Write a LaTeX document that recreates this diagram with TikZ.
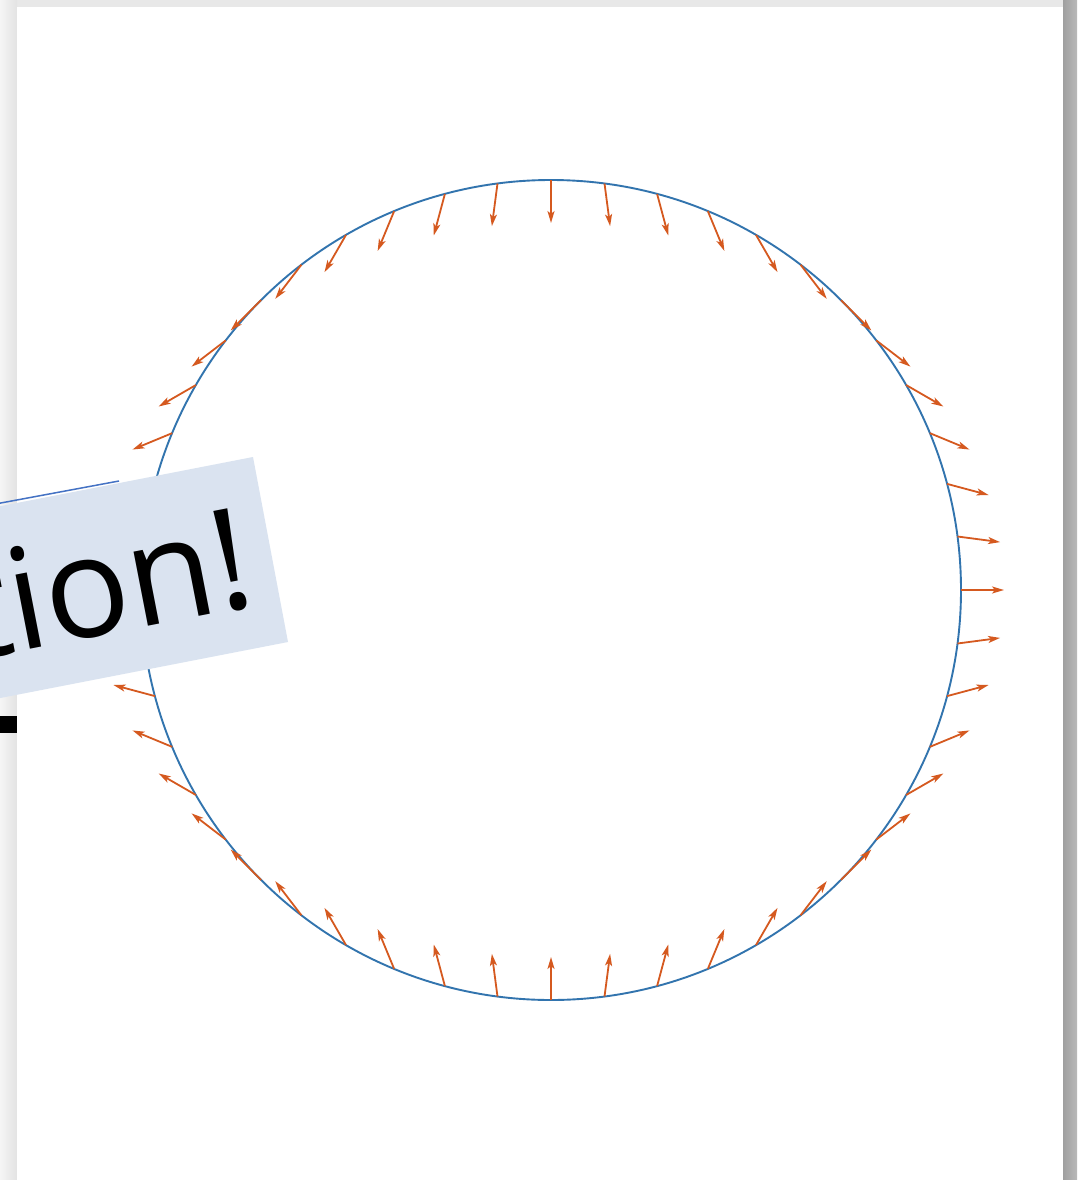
\documentclass[tikz,border=0pt]{standalone}
\usepackage{fontspec}
\setmainfont{Open Sans}
\usetikzlibrary{arrows.meta}
\definecolor{circblue}{HTML}{3274AE}
\definecolor{arrred}{HTML}{D5591F}
\definecolor{boxfill}{HTML}{DAE3F0}
\definecolor{edgeblue}{HTML}{4472C4}
\begin{document}
\begin{tikzpicture}[x=1pt,y=-1pt,
  vec/.style={draw=arrred, line width=1.8pt, -{Stealth[length=12pt,width=7pt,inset=3pt]}},
  ring/.style={draw=circblue, line width=1.9pt},
  labelbox/.style={fill=boxfill},
  labeltext/.style={font=\fontsize{141}{145}\selectfont, text=black, rotate=11, anchor=base east, inner sep=0pt}]
\useasboundingbox (0,0) rectangle (1077,1180);
\clip (0,0) rectangle (1077,1180);
% window background and shadow
\fill[gray!18] (0,0) rectangle (1077,1180);
\shade[left color=gray!75, right color=gray!55] (1063,0) rectangle (1077,1180);
\shade[left color=gray!8, right color=gray!22] (0,0) rectangle (17,1180);
\fill[white] (17,7) rectangle (1063,1180);
% circle and vector field
\coordinate (c) at (551,590);
\draw[ring] (c) circle[radius=410];
\foreach \k in {0,...,47}{
  \pgfmathsetmacro\a{7.5*\k}
  \coordinate (p\k) at ({551+410*cos(\a)},{590-410*sin(\a)});
  \coordinate (q\k) at ({551+410*cos(\a)+43*cos(\a)},{590-410*sin(\a)+43*sin(\a)});
  \draw[vec] (p\k) -- (q\k);
}
% rotated label box
\fill[labelbox] (253,457) -- (288,642) -- (-202.5,737.5) -- (-237.5,552.5) -- cycle;
\coordinate (e1) at (-10,505);
\coordinate (e2) at (119,481);
\draw[edgeblue, line width=1.5pt] (e1) -- (e2);
\node[labeltext] (lbl) at (259,605) {tion!};
% black fragment at left edge
\fill[black] (0,716) rectangle (17,733);
\end{tikzpicture}
\end{document}
